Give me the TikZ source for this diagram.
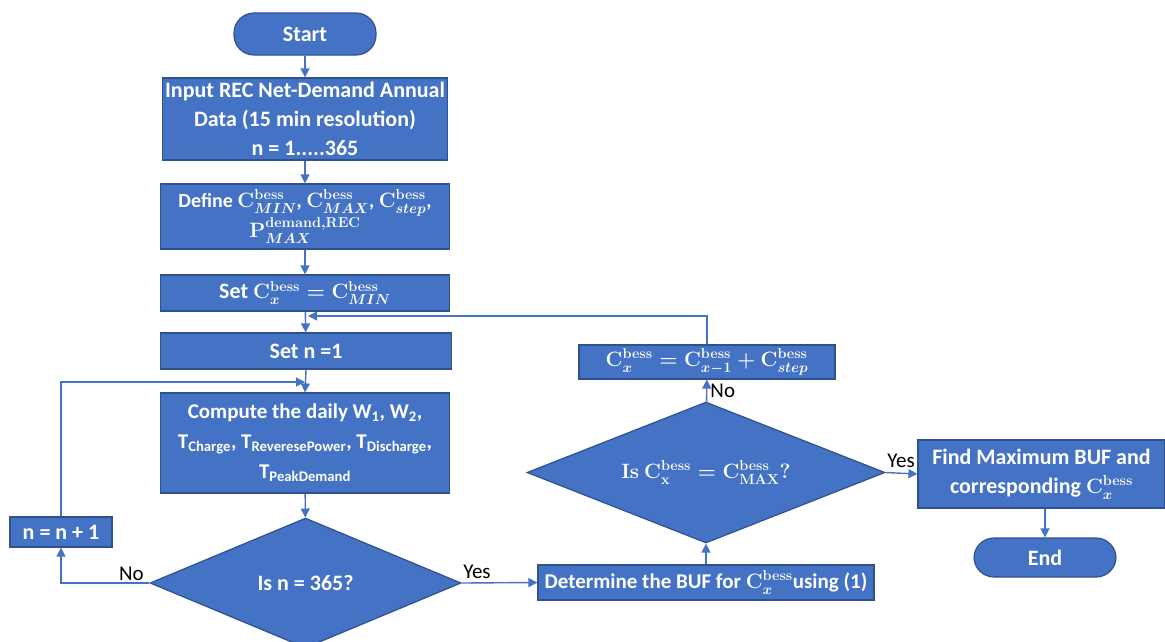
\documentclass[tikz,border=0pt]{standalone}
\usepackage{amsmath,amssymb}
\usepackage[no-math]{fontspec}
\setmainfont{Carlito}
\usetikzlibrary{shapes.geometric,arrows.meta,positioning}
\definecolor{flowblue}{HTML}{4472C4}
\definecolor{flowedge}{HTML}{2F528F}
\newcommand{\Cbess}{\mathbf{C}^{\mathbf{bess}}}

\begin{document}
\begin{tikzpicture}[x=1pt,y=-1pt,
  box/.style={draw=flowedge,fill=flowblue,line width=1.2pt,text=white,inner sep=0pt,
              align=center,font=\bfseries\fontsize{22}{29}\selectfont\boldmath},
  term/.style={box,rounded corners=20pt},
  dia/.style={box,diamond,aspect=2.4},
  arr/.style={draw=flowblue,line width=1.4pt,-{Triangle[length=9pt,width=9pt]}},
  lbl/.style={font=\fontsize{21}{24}\selectfont,inner sep=1pt}]
  \clip (0,0) rectangle (1165,641);
  \node[term,minimum width=142,minimum height=42] (start) at (305,34) {Start};
  \node[box,minimum width=285,minimum height=82] (input) at (305,119)
    {Input REC Net-Demand Annual\\Data (15 min resolution)\\n = 1.....365};
  \node[box,minimum width=289,minimum height=65,font=\bfseries\fontsize{20}{22}\selectfont\boldmath] (define) at (305,216.5)
    {Define $\Cbess_{MIN}$, $\Cbess_{MAX}$, $\Cbess_{step}$,\\$\mathbf{P}^{\mathbf{demand,REC}}_{MAX}$};
  \node[box,minimum width=289,minimum height=36] (setc) at (305,293) {Set $\Cbess_{x}=\Cbess_{MIN}$};
  \node[box,minimum width=291,minimum height=36] (setn) at (306,351) {Set n =1};
  \node[box,minimum width=289,minimum height=100,font=\bfseries\fontsize{21}{30}\selectfont] (comp) at (305,443)
    {Compute the daily W\textsubscript{1}, W\textsubscript{2},\\
     T\textsubscript{Charge}, T\textsubscript{ReveresePower}, T\textsubscript{Discharge},\\
     T\textsubscript{PeakDemand}};
  \node[dia,minimum width=311,minimum height=130] (isn) at (305.5,583) {Is n = 365?};
  \node[box,minimum width=102,minimum height=30] (incn) at (61,532) {n = n + 1};
  \node[box,minimum width=336,minimum height=35,font=\bfseries\fontsize{21}{25}\selectfont\boldmath] (buf) at (706,582.5)
    {Determine the BUF for $\Cbess_{x}$using (1)};
  \node[dia,minimum width=358,minimum height=141] (ismax) at (706,472.5)
    {$\mathbf{Is}\ \Cbess_{\mathbf{x}}=\Cbess_{\mathbf{MAX}}\mathbf{?}$};
  \node[box,minimum width=256,minimum height=34] (next) at (707,362)
    {$\Cbess_{x}=\Cbess_{x-1}+\Cbess_{step}$};
  \node[box,minimum width=247,minimum height=68] (find) at (1041.5,474)
    {Find Maximum BUF and\\corresponding $\Cbess_{x}$};
  \node[term,minimum width=142,minimum height=39] (end) at (1045,557.5) {End};
  \coordinate (join) at (305,382);
  \coordinate (back) at (308,316);
  \draw[arr] (start) -- (input);
  \draw[arr] (input) -- (define);
  \draw[arr] (define) -- (setc);
  \draw[arr] (setc) -- (setn);
  \draw[arr] (setn.south) -- (comp.north);
  \draw[arr] (comp) -- (isn);
  \draw[arr] (isn.west) -| (incn.south)
    node[at start,lbl,above left=1pt and 4pt] {No};
  \draw[arr] (incn.north) |- (join);
  \draw[arr] (isn.east) -- (buf.west)
    node[at start,lbl,above right=3pt and 0pt] {Yes};
  \draw[arr] (buf) -- (ismax);
  \draw[arr] (ismax) -- (next)
    node[midway,lbl,right=2pt] {No};
  \draw[arr] (next.north) |- (back);
  \draw[arr] (ismax.east) -- (find.west)
    node[at start,lbl,above right=3pt and 0pt] {Yes};
  \draw[arr] (find.south -| end) -- (end);
\end{tikzpicture}
\end{document}
